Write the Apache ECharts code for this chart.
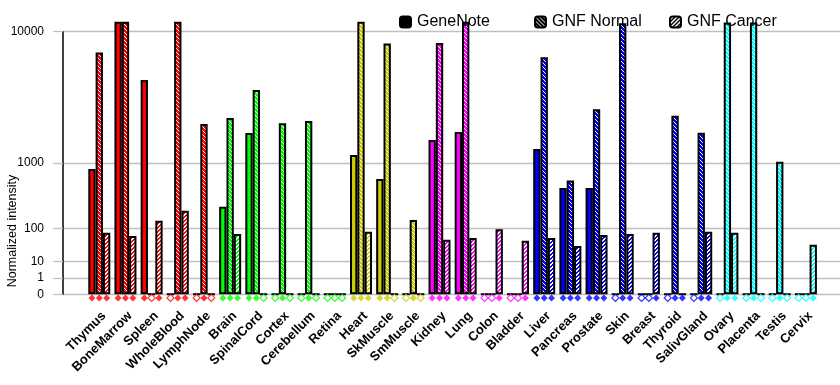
<!DOCTYPE html>
<html>
<head>
<meta charset="utf-8">
<script src="https://cdn.jsdelivr.net/npm/echarts@6/dist/echarts.min.js"></script>
<style>html,body{margin:0;padding:0;background:#fff}#c{width:840px;height:385px}</style>
</head>
<body>
<div id="c"></div>
<script>
// ---- data ----
const tissues = ['Thymus','BoneMarrow','Spleen','WholeBlood','LymphNode','Brain','SpinalCord','Cortex','Cerebellum','Retina','Heart','SkMuscle','SmMuscle','Kidney','Lung','Colon','Bladder','Liver','Pancreas','Prostate','Skin','Breast','Thyroid','SalivGland','Ovary','Placenta','Testis','Cervix'];
const geneNote  = [857, 11300, 5100, null, null, 261, 1980, null, null, null, 1218, 650, null, 1710, 2020, null, null, 1400, 496, 496, null, null, null, null, null, null, null, null];
const gnfNormal = [7600, 11300, null, 11300, 2375, 2665, 4350, 2410, 2515, null, 11300, 8570, 151, 8640, 11300, null, null, 7120, 620, 3125, 11100, null, 2780, 1994, 11200, 11200, 1034, null];
const gnfCancer = [81, 67, 146, 223, null, 75, null, null, null, null, 85, null, null, 54, 60, 97, 51, 60, 36, 71, 75, 81, 0, 85, 81, null, null, 39];
const tissueGroup = [0,0,0,0,0,1,1,1,1,1,2,2,2,3,3,3,3,4,4,4,4,4,4,4,5,5,5,5];
const seriesNames = ['GeneNote','GNF Normal','GNF Cancer'];
const tickValues = [0, 1, 10, 100, 1000, 10000];
const tickLabels = ['0','1','10','100','1000','10000'];

// ---- styles ----
const palette = ['#ff0000','#00ff00','#cccc00','#ff00ff','#0000ff','#00ffff'];
const FONT = '"Liberation Sans", Arial, sans-serif';
const EXP = Math.log10(2);           // power scale: y = v^log10(2)
const tf = v => Math.pow(v, EXP);

function pattern(color, kind) {
  if (kind === 0) return color;
  const n = 4;
  const cv = document.createElement('canvas');
  cv.width = n; cv.height = n;
  const ctx = cv.getContext('2d');
  ctx.fillStyle = kind === 1 ? color : '#ffffff';
  ctx.fillRect(0, 0, n, n);
  for (let x = 0; x < n; x++) for (let y = 0; y < n; y++) {
    if (kind === 1 && ((x - y + n) % n === 0)) { ctx.fillStyle = '#ffffff'; ctx.fillRect(x, y, 1, 1); }
    if (kind === 2 && ((x + y) % n < 2)) { ctx.fillStyle = color; ctx.fillRect(x, y, 1, 1); }
  }
  return { image: cv, repeat: 'repeat' };
}

const dataSets = [geneNote, gnfNormal, gnfCancer];
const BW = 7.33;
const series = [];
dataSets.forEach((arr, k) => {
  series.push({
    type: 'bar', name: seriesNames[k], xAxisIndex: 1, yAxisIndex: 1,
    barWidth: BW, barGap: '0%', clip: false, z: 3,
    itemStyle: { color: pattern('#000000', k), borderColor: '#000', borderWidth: 2 },
    data: arr.map((v, i) => ({ value: tf(v == null ? 0 : v), itemStyle: { color: pattern(palette[tissueGroup[i]], k) } }))
  });
});
dataSets.forEach((arr, k) => {
  series.push({
    type: 'scatter', name: 'm' + k, xAxisIndex: 1, yAxisIndex: 1, clip: false, silent: true, z: 4,
    symbol: 'diamond', symbolSize: 7, symbolOffset: [(k - 1) * BW, 3.6],
    data: arr.map((v, i) => {
      const c = palette[tissueGroup[i]];
      return { value: [i, 0], itemStyle: v == null ? { color: '#fff', borderColor: c, borderWidth: 1.2 } : { color: c } };
    })
  });
});

const tickT = tickValues.map(tf);
const legendBase = (name, left) => ({
  data: [name], left: left, top: 14, padding: 0, itemWidth: 11, itemHeight: 11, itemGap: 0,
  textStyle: { fontFamily: FONT, fontSize: 16, color: '#000', padding: [0,0,0,1] }, selectedMode: false
});

const option = {
  animation: false,
  backgroundColor: '#fff',
  legend: [legendBase('GeneNote', 399), legendBase('GNF Normal', 534), legendBase('GNF Cancer', 669)],
  grid: [
    { left: 63, right: 0, top: 31.7, bottom: 90.7 },
    { left: 86.2, right: 21, top: 31.7, bottom: 90.7 }
  ],
  xAxis: [
    { type: 'value', gridIndex: 0, min: 0, max: 1, show: false },
    { type: 'category', gridIndex: 1, data: tissues,
      axisLine: { show: false }, axisTick: { show: false },
      axisLabel: { interval: 0, rotate: 45, margin: 15, verticalAlign: 'top', lineHeight: 13,
        fontFamily: FONT, fontSize: 13, fontWeight: 'bold', color: '#000' } }
  ],
  yAxis: [
    { type: 'value', gridIndex: 0, min: 0, max: tf(10000),
      axisLine: { show: true, lineStyle: { color: '#000', width: 1.5 } },
      axisTick: { show: true, length: 10, customValues: tickT, lineStyle: { color: '#c0c0c0', width: 1.3 } },
      axisLabel: { customValues: tickT, margin: 19, fontFamily: FONT, fontSize: 12, color: '#000',
        formatter: v => { let b = 0; tickT.forEach((t, j) => { if (Math.abs(t - v) < Math.abs(tickT[b] - v)) b = j; }); return tickLabels[b]; } },
      splitLine: { show: true, lineStyle: { color: '#c0c0c0', width: 1.3 } } },
    { type: 'value', gridIndex: 1, min: 0, max: tf(10000), show: false, splitLine: { show: false } },
    { type: 'value', gridIndex: 0, min: 0, max: tf(10000),
      axisLine: { show: false }, axisLabel: { show: false }, splitLine: { show: false },
      axisTick: { show: true, length: 10, customValues: [tickT[0], tickT[tickT.length - 1]], lineStyle: { color: '#000', width: 1.5 } } }
  ],
  graphic: [
    { type: 'text', x: 13, y: 231, rotation: Math.PI / 2,
      style: { text: 'Normalized intensity', font: '12.5px ' + FONT, fill: '#000', align: 'center', verticalAlign: 'middle' } }
  ],
  series: series
};
echarts.init(document.getElementById('c')).setOption(option);
</script>
</body>
</html>
